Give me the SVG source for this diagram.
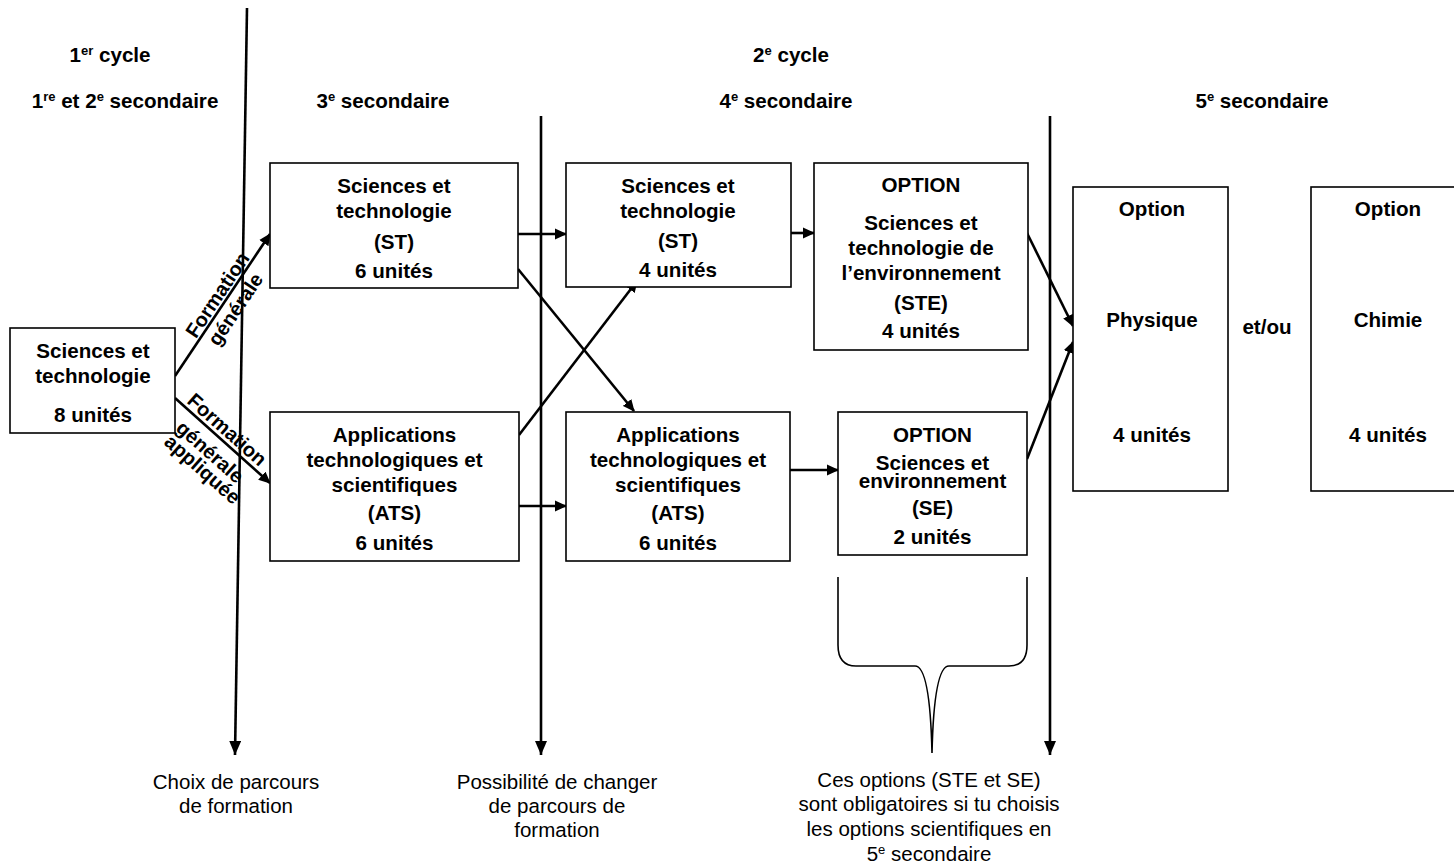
<svg xmlns="http://www.w3.org/2000/svg" width="1454" height="866" viewBox="0 0 1454 866">
<defs>
<style>
text{font-family:"Liberation Sans",Arial,sans-serif;fill:#000}
.b{font-weight:bold;font-size:20.6px;text-anchor:middle}
.r{font-size:20.5px;text-anchor:middle}
.lbl{font-weight:bold;font-size:20px;text-anchor:middle}
.box{fill:#fff;stroke:#000;stroke-width:1.6}
.con{stroke:#000;stroke-width:2.6;fill:none}
.sup{font-size:13px}
</style>
<marker id="ah" markerWidth="12" markerHeight="12" refX="11" refY="6" orient="auto" markerUnits="userSpaceOnUse" viewBox="0 0 12 12">
<path d="M0,0.5 L12,6 L0,11.5 z" fill="#000"/>
</marker>
<marker id="ahv" markerWidth="14" markerHeight="12" refX="14" refY="6" orient="auto" markerUnits="userSpaceOnUse" viewBox="0 0 14 12">
<path d="M0,0 L14,6 L0,12 z" fill="#000"/>
</marker>
</defs>
<rect width="1454" height="866" fill="#fff"/>

<g id="headers">
<text class="b" x="110" y="62">1<tspan class="sup" dy="-7">er</tspan><tspan dy="7"> cycle</tspan></text>
<text class="b" x="125" y="108">1<tspan class="sup" dy="-7">re</tspan><tspan dy="7"> et 2</tspan><tspan class="sup" dy="-7">e</tspan><tspan dy="7"> secondaire</tspan></text>
<text class="b" x="383" y="108">3<tspan class="sup" dy="-7">e</tspan><tspan dy="7"> secondaire</tspan></text>
<text class="b" x="791" y="62">2<tspan class="sup" dy="-7">e</tspan><tspan dy="7"> cycle</tspan></text>
<text class="b" x="786" y="108">4<tspan class="sup" dy="-7">e</tspan><tspan dy="7"> secondaire</tspan></text>
<text class="b" x="1262" y="108">5<tspan class="sup" dy="-7">e</tspan><tspan dy="7"> secondaire</tspan></text>
</g>

<g id="connectors">
<line class="con" x1="247" y1="8" x2="235" y2="755" marker-end="url(#ahv)"/>
<line class="con" x1="541" y1="116" x2="541" y2="755" marker-end="url(#ahv)"/>
<line class="con" x1="1050" y1="116" x2="1050" y2="755" marker-end="url(#ahv)"/>
<line class="con" x1="175" y1="376" x2="270" y2="234" marker-end="url(#ah)"/>
<line class="con" x1="175" y1="398" x2="270" y2="483" marker-end="url(#ah)"/>
<line class="con" x1="518" y1="234" x2="566" y2="234" marker-end="url(#ah)"/>
<line class="con" x1="518" y1="269" x2="634" y2="411" marker-end="url(#ah)"/>
<line class="con" x1="519" y1="435" x2="637" y2="281" marker-end="url(#ah)"/>
<line class="con" x1="519" y1="506" x2="566" y2="506" marker-end="url(#ah)"/>
<line class="con" x1="791" y1="233" x2="814" y2="233" marker-end="url(#ah)"/>
<line class="con" x1="790" y1="470" x2="838" y2="470" marker-end="url(#ah)"/>
<line class="con" x1="1027" y1="233" x2="1073" y2="326" marker-end="url(#ah)"/>
<line class="con" x1="1027" y1="459" x2="1073" y2="342" marker-end="url(#ah)"/>
<path d="M838,577 L838,645 Q838,666 856,666 L915,666 Q930,666 932,753 M1027,577 L1027,645 Q1027,666 1009,666 L949,666 Q934,666 932,753" fill="none" stroke="#000" stroke-width="1.6"/>
<g transform="translate(225.6,300.4) rotate(-56.2)">
<text class="lbl" x="0" y="-3">Formation</text>
<text class="lbl" x="-2" y="20">générale</text>
</g>
<g transform="translate(219.9,437.7) rotate(41.5)">
<text class="lbl" x="0" y="-4">Formation</text>
<text class="lbl" x="2" y="24">générale</text>
<text class="lbl" x="8" y="42">appliquée</text>
</g>
</g>

<g id="n-st1">
<rect class="box" x="10" y="328" width="165" height="105"/>
<text class="b" x="93" y="358">Sciences et</text>
<text class="b" x="93" y="383">technologie</text>
<text class="b" x="93" y="422">8 unités</text>
</g>

<g id="n-st3">
<rect class="box" x="270" y="163" width="248" height="125"/>
<text class="b" x="394" y="193">Sciences et</text>
<text class="b" x="394" y="218">technologie</text>
<text class="b" x="394" y="249">(ST)</text>
<text class="b" x="394" y="278">6 unités</text>
</g>

<g id="n-ats3">
<rect class="box" x="270" y="412" width="249" height="149"/>
<text class="b" x="394.5" y="442">Applications</text>
<text class="b" x="394.5" y="467">technologiques et</text>
<text class="b" x="394.5" y="492">scientifiques</text>
<text class="b" x="394.5" y="520">(ATS)</text>
<text class="b" x="394.5" y="550">6 unités</text>
</g>

<g id="n-st4">
<rect class="box" x="566" y="163" width="225" height="124"/>
<text class="b" x="678" y="193">Sciences et</text>
<text class="b" x="678" y="218">technologie</text>
<text class="b" x="678" y="248">(ST)</text>
<text class="b" x="678" y="277">4 unités</text>
</g>

<g id="n-ats4">
<rect class="box" x="566" y="412" width="224" height="149"/>
<text class="b" x="678" y="442">Applications</text>
<text class="b" x="678" y="467">technologiques et</text>
<text class="b" x="678" y="492">scientifiques</text>
<text class="b" x="678" y="520">(ATS)</text>
<text class="b" x="678" y="550">6 unités</text>
</g>

<g id="n-ste">
<rect class="box" x="814" y="163" width="214" height="187"/>
<text class="b" x="921" y="192">OPTION</text>
<text class="b" x="921" y="230">Sciences et</text>
<text class="b" x="921" y="255">technologie de</text>
<text class="b" x="921" y="280">l’environnement</text>
<text class="b" x="921" y="310">(STE)</text>
<text class="b" x="921" y="338">4 unités</text>
</g>

<g id="n-se">
<rect class="box" x="838" y="412" width="189" height="143"/>
<text class="b" x="932.5" y="442">OPTION</text>
<text class="b" x="932.5" y="470">Sciences et</text>
<text class="b" x="932.5" y="488">environnement</text>
<text class="b" x="932.5" y="515">(SE)</text>
<text class="b" x="932.5" y="544">2 unités</text>
</g>

<g id="n-physique">
<rect class="box" x="1073" y="187" width="155" height="304"/>
<text class="b" x="1152" y="216">Option</text>
<text class="b" x="1152" y="327">Physique</text>
<text class="b" x="1152" y="442">4 unités</text>
</g>

<g id="n-etou">
<text class="b" x="1267" y="334">et/ou</text>
</g>

<g id="n-chimie">
<rect class="box" x="1311" y="187" width="160" height="304"/>
<text class="b" x="1388" y="216">Option</text>
<text class="b" x="1388" y="327">Chimie</text>
<text class="b" x="1388" y="442">4 unités</text>
</g>

<g id="notes">
<text class="r" x="236" y="789">Choix de parcours</text>
<text class="r" x="236" y="813">de formation</text>
<text class="r" x="557" y="789">Possibilité de changer</text>
<text class="r" x="557" y="813">de parcours de</text>
<text class="r" x="557" y="837">formation</text>
<text class="r" x="929" y="787">Ces options (STE et SE)</text>
<text class="r" x="929" y="811">sont obligatoires si tu choisis</text>
<text class="r" x="929" y="836">les options scientifiques en</text>
<text class="r" x="929" y="861">5<tspan class="sup" dy="-7">e</tspan><tspan dy="7"> secondaire</tspan></text>
</g>
</svg>
